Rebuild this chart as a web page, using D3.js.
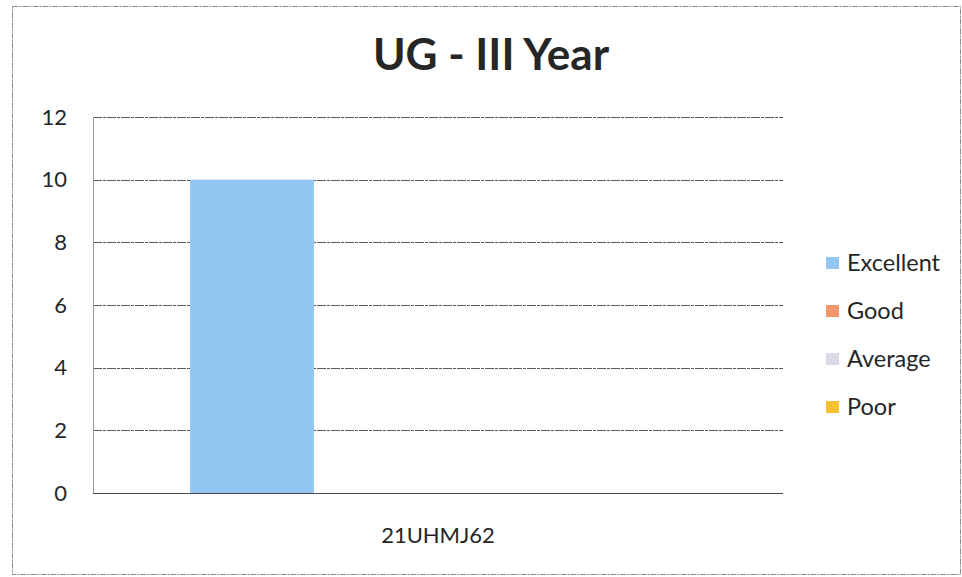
<!DOCTYPE html>
<html>
<head>
<meta charset="utf-8">
<script src="https://cdn.jsdelivr.net/npm/d3@7/dist/d3.min.js"></script>
<style>
  html, body { margin: 0; padding: 0; background: #fff; }
  svg { display: block; }
  text { font-family: Lato, "Open Sans", sans-serif; fill: #262626; }
</style>
</head>
<body>
<svg id="chart" width="962" height="577"></svg>
<script>
// Course codes on the x axis
const categories = ["21UHMJ62"];
// Feedback levels (legend order)
const seriesNames = ["Excellent", "Good", "Average", "Poor"];
const seriesColors = ["#93c7f1", "#f2956a", "#dcd8e8", "#f6c133"];
// Counts per course, one array per level
const excellent = [10];
const good = [0];
const average = [0];
const poor = [0];
const yTicks = [0, 2, 4, 6, 8, 10, 12];
const titleText = "UG - III Year";

const seriesValues = [excellent, good, average, poor];

const svg = d3.select("#chart");
const plot = { left: 93, right: 783, top: 117, bottom: 493 };

// outer chart border
svg.append("rect")
  .attr("x", 12.5).attr("y", 6.5)
  .attr("width", 948).attr("height", 568)
  .attr("fill", "#fff")
  .attr("stroke", "#8a8a8a")
  .attr("stroke-width", 1)
  .attr("stroke-dasharray", "6,1,2,1");

const x = d3.scaleBand()
  .domain(categories)
  .range([plot.left, plot.right])
  .paddingInner(0)
  .paddingOuter(0.1956);

const xs = d3.scaleBand()
  .domain(seriesNames)
  .range([0, x.bandwidth()])
  .padding(0);

const y = d3.scaleLinear()
  .domain([0, 12])
  .range([plot.bottom, plot.top]);

// horizontal gridlines
svg.append("g")
  .selectAll("line")
  .data(yTicks.filter(t => t > 0))
  .join("line")
  .attr("x1", plot.left).attr("x2", plot.right)
  .attr("y1", d => Math.round(y(d)) + 0.5)
  .attr("y2", d => Math.round(y(d)) + 0.5)
  .attr("stroke", "#5a5a5a")
  .attr("stroke-width", 1.2)
  .attr("stroke-dasharray", "9,1,3,1");

// y axis line
svg.append("line")
  .attr("x1", plot.left + 0.5).attr("x2", plot.left + 0.5)
  .attr("y1", plot.top).attr("y2", plot.bottom)
  .attr("stroke", "#9a9a9a")
  .attr("stroke-width", 1);

// y tick labels
const yAxis = d3.axisLeft(y).tickValues(yTicks).tickSize(0).tickPadding(26);
const gy = svg.append("g")
  .attr("transform", `translate(${plot.left},0)`)
  .call(yAxis);
gy.select(".domain").remove();
gy.selectAll("text")
  .style("font-family", "Lato, sans-serif")
  .style("font-size", "22px")
  .attr("fill", "#262626");

// bars
const groups = svg.append("g")
  .selectAll("g")
  .data(categories)
  .join("g")
  .attr("transform", d => `translate(${x(d)},0)`);

groups.selectAll("rect")
  .data((d, ci) => seriesNames.map((s, si) => ({ s, v: seriesValues[si][ci], c: seriesColors[si] })))
  .join("rect")
  .attr("x", d => xs(d.s))
  .attr("width", xs.bandwidth())
  .attr("y", d => y(d.v))
  .attr("height", d => y(0) - y(d.v))
  .attr("fill", d => d.c);

// x axis baseline
svg.append("line")
  .attr("x1", plot.left).attr("x2", plot.right)
  .attr("y1", plot.bottom + 0.5).attr("y2", plot.bottom + 0.5)
  .attr("stroke", "#4a4a4a")
  .attr("stroke-width", 1.2);

// x category labels
const xAxis = d3.axisBottom(x).tickSize(0).tickPadding(34);
const gx = svg.append("g")
  .attr("transform", `translate(0,${plot.bottom})`)
  .call(xAxis);
gx.select(".domain").remove();
gx.selectAll("text")
  .style("font-family", "Lato, sans-serif")
  .style("font-size", "22px")
  .attr("fill", "#262626");

// title
svg.append("text")
  .attr("x", 491).attr("y", 70)
  .attr("text-anchor", "middle")
  .style("font-size", "44px")
  .style("font-weight", "bold")
  .text(titleText);

// legend
const legend = svg.append("g")
  .selectAll("g")
  .data(seriesNames)
  .join("g")
  .attr("transform", (d, i) => `translate(826,${263 + i * 48})`);

legend.append("rect")
  .attr("x", 0).attr("y", -6)
  .attr("width", 13).attr("height", 12)
  .attr("fill", (d, i) => seriesColors[i]);

legend.append("text")
  .attr("x", 21).attr("y", 0)
  .attr("dy", "0.35em")
  .style("font-size", "23.5px")
  .text(d => d);
</script>
</body>
</html>
